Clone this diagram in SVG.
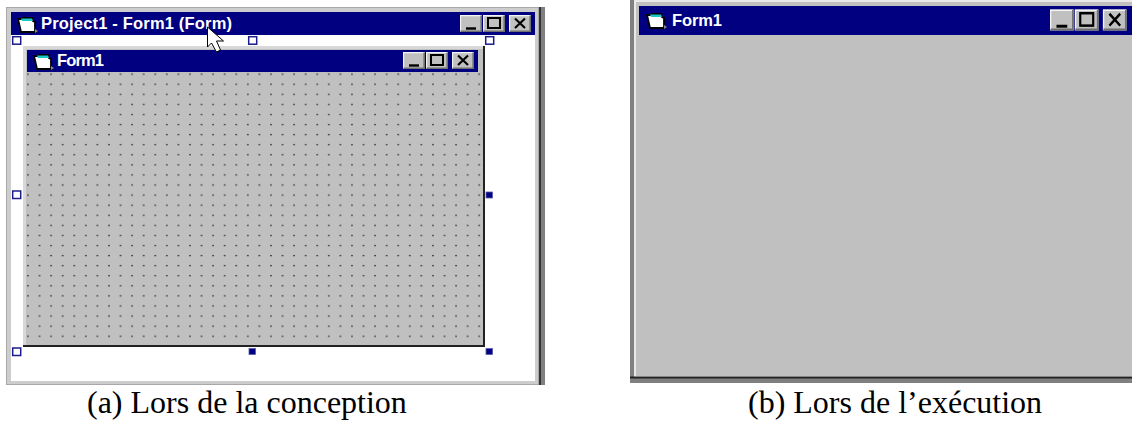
<svg xmlns="http://www.w3.org/2000/svg" width="1132" height="421" viewBox="0 0 1132 421">
<style>
.ti{font:bold 16.5px "Liberation Sans",Arial,sans-serif;fill:#fff}
.cap{font:32px "Liberation Serif","Times New Roman",serif;fill:#000}
.hh{fill:#fff;stroke:#1c1c8c;stroke-width:1.5}
.hf{fill:#000080;stroke:#5a5ab0;stroke-width:.8}
.btn{fill:#c0c0c0}
.bl{fill:none;stroke:#f4f4f4;stroke-width:1.2}
.bd{fill:none;stroke:#707070;stroke-width:1.6}
.g{fill:none;stroke:#000;stroke-width:2}
</style>
<defs>
<pattern id="dots" x="22.2" y="69" width="11.57" height="10.08" patternUnits="userSpaceOnUse">
<circle cx="5.8" cy="5.1" r="0.8" fill="#222"/>
</pattern>
<g id="icon">
<path d="M1 2h4l1-1h9l1 3 2 1v10H4z" fill="#fff" stroke="#000" stroke-width="1.8"/>
<path d="M4 1.500h11l1 2.500H5z" fill="#18c8c8"/>
<path d="M18 12l3 2-3 2z" fill="#888"/>
</g>
<g id="btns">
<rect class="btn" width="22" height="17"/>
<path class="bl" d="M.6 16.500V.6h21"/><path class="bd" d="M21.200 .5V16.200H.5"/>
<path d="M6 13.500h10" stroke="#000" stroke-width="2.4"/>
<rect class="btn" x="23" width="22" height="17"/>
<path class="bl" d="M23.600 16.500V.6h21"/><path class="bd" d="M44.200 .5V16.200H23.500"/>
<rect class="g" x="28" y="3" width="12" height="10"/>
<rect class="btn" x="49" width="22" height="17"/>
<path class="bl" d="M49.600 16.500V.6h21"/><path class="bd" d="M70.200 .5V16.200H49.500"/>
<path d="M55 3.500l10 9.500M65 3.500l-10 9.500" stroke="#000" stroke-width="2.200"/>
</g>
</defs>
<rect width="1132" height="421" fill="#fff"/>
<g id="design-window">
<rect x="6" y="7" width="533" height="378" fill="#a8a8a8"/>
<rect x="7" y="8" width="531" height="376" fill="#cdcdcd"/>
<rect x="11" y="12" width="524" height="369" fill="#fff"/>
<rect x="539" y="7" width="2" height="378" fill="#333"/>
<rect x="541" y="7" width="4" height="378" fill="#808080"/>
<rect x="11" y="12" width="524" height="23" fill="#000080"/>
<use href="#icon" x="17" y="17"/>
<text class="ti" x="41" y="29" textLength="191">Project1 - Form1 (Form)</text>
<use href="#btns" x="460" y="15"/>
</g>
<g id="inner-form">
<rect x="23" y="46" width="461" height="300" fill="#d8d8d8"/>
<rect x="26" y="49" width="457" height="296" fill="#c0c0c0"/>
<rect x="27" y="72" width="456" height="273" fill="url(#dots)"/>
<rect x="483" y="46" width="2" height="301" fill="#222"/>
<rect x="23" y="345" width="462" height="2" fill="#222"/>
<rect x="27" y="50" width="451" height="22" fill="#000080"/>
<use href="#icon" x="33" y="54"/>
<text class="ti" x="57" y="66" textLength="47">Form1</text>
<use href="#btns" x="403" y="52"/>
</g>
<g id="handles">
<rect class="hh" x="12.700" y="36.700" width="8" height="7.500"/>
<rect class="hh" x="248.700" y="36.700" width="8" height="7.500"/>
<rect class="hh" x="485.700" y="36.700" width="8" height="7.500"/>
<rect class="hh" x="12.700" y="191" width="8" height="7.500"/>
<rect class="hf" x="486" y="192" width="6.500" height="6"/>
<rect class="hh" x="12.700" y="348" width="8" height="7.500"/>
<rect class="hf" x="249" y="348.500" width="6.500" height="6"/>
<rect class="hf" x="486" y="348.500" width="6.500" height="6"/>
</g>
<g id="cursor">
<path d="M207.500 27v20l4-4 5 9 4-2-4-9h7z" fill="#fff" stroke="#000" stroke-width="1"/>
</g>
<g id="run-window">
<rect x="630" y="0" width="502" height="383" fill="#808080"/>
<rect x="634" y="0" width="498" height="377" fill="#e8e8e8"/>
<rect x="636" y="2" width="496" height="374" fill="#c0c0c0"/>
<rect x="630" y="376.500" width="502" height="2" fill="#222"/>
<rect x="639" y="6" width="493" height="29" fill="#000080"/>
<use href="#icon" x="646" y="13"/>
<text class="ti" x="672" y="26" textLength="50">Form1</text>
<g transform="translate(1050 9.500) scale(1.08 1.24)"><use href="#btns"/></g>
</g>
<g id="captions">
<text class="cap" x="87" y="413">(a) Lors de la conception</text>
<text class="cap" x="748" y="413">(b) Lors de l’exécution</text>
</g>
</svg>
